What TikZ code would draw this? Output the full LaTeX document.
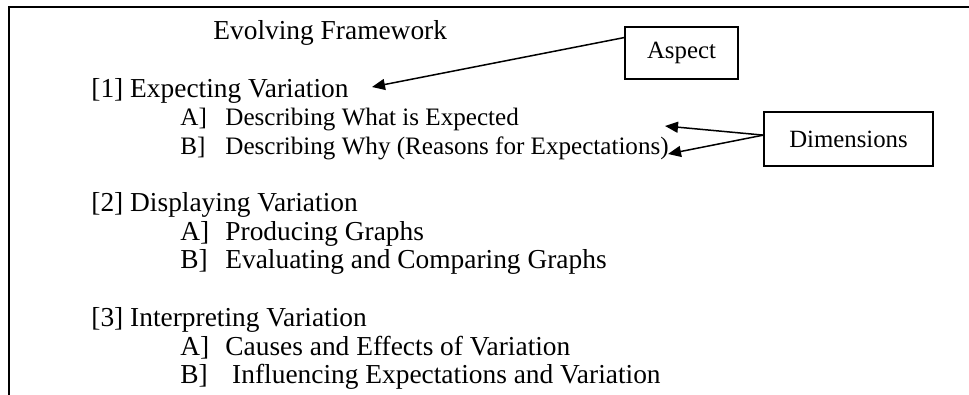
\documentclass[tikz,border=0pt]{standalone}
\usepackage{fontspec}
\setmainfont{Liberation Serif}
\usetikzlibrary{arrows.meta,calc}
\tikzset{
  txt/.style={anchor=base west, inner sep=0pt, font=\fontsize{13.7pt}{14.3pt}\selectfont},
  subtxt/.style={anchor=base west, inner sep=0pt, font=\fontsize{12.55pt}{14.3pt}\selectfont},
  lbox/.style={draw, line width=0.65pt, inner sep=0pt, font=\fontsize{12.4pt}{14.3pt}\selectfont},
  pointer/.style={line width=0.75pt, -{Triangle[length=6.5pt,width=5.5pt]}},
  frame/.style={line width=1pt}
}
\newcommand{\lab}[1]{\makebox[22.5pt][l]{#1}}
\begin{document}
\begin{tikzpicture}[x=0.5pt,y=-0.5pt]
\useasboundingbox (0,0) rectangle (969,395);
% frame
\coordinate (fbl) at (9,396);
\coordinate (ftl) at (9,7);
\coordinate (ftr) at (970,7);
\draw[frame] (fbl) -- (ftl) -- (ftr);
% text
\node[txt] (title) at (213,40) {Evolving Framework};
\node[txt] (a1) at (91,97.2) {[1] Expecting Variation};
\node[subtxt] (a1a) at (180,126) {\lab{A]}Describing What is Expected};
\node[subtxt] (a1b) at (180,155) {\lab{B]}Describing Why (Reasons for Expectations)};
\node[txt] (a2) at (91,212) {[2] Displaying Variation};
\node[txt] (a2a) at (180,240.5) {\lab{A]}Producing Graphs};
\node[txt] (a2b) at (180,269) {\lab{B]}Evaluating and Comparing Graphs};
\node[txt] (a3) at (91,326.5) {[3] Interpreting Variation};
\node[txt] (a3a) at (180,355) {\lab{A]}Causes and Effects of Variation};
\node[txt] (a3b) at (180,383.2) {\lab{B]}\ Influencing Expectations and Variation};
% label boxes
\node[lbox, minimum width=56.5pt, minimum height=26pt] (asp) at (681.5,53) {Aspect};
\node[lbox, minimum width=84.5pt, minimum height=27pt] (dim) at (848.5,139) {Dimensions};
% arrow ends
\coordinate (aspTip) at (372,87);
\coordinate (dimTipA) at (665,126);
\coordinate (dimTipB) at (668,154);
\draw[pointer] ($(asp.north west)!0.21!(asp.south west)$) -- (aspTip);
\draw[pointer] ($(dim.north west)!0.43!(dim.south west)$) -- (dimTipA);
\draw[pointer] ($(dim.north west)!0.43!(dim.south west)$) -- (dimTipB);
\end{tikzpicture}
\end{document}
